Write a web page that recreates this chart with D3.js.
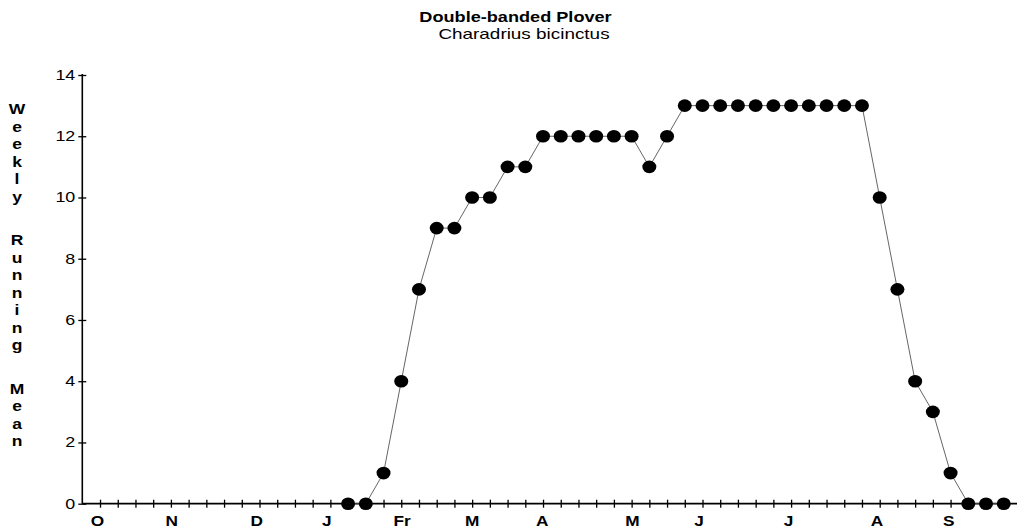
<!DOCTYPE html>
<html>
<head>
<meta charset="utf-8">
<script src="https://cdn.jsdelivr.net/npm/d3@7"></script>
<style>
  html, body { margin: 0; padding: 0; background: #fff; }
  svg { display: block; font-family: "Liberation Sans", Arial, sans-serif; }
</style>
</head>
<body>
<svg id="chart" width="1017" height="527"></svg>
<script>
// ---- data ----
const weeks = [15,16,17,18,19,20,21,22,23,24,25,26,27,28,29,30,31,32,33,34,35,36,37,38,39,40,41,42,43,44,45,46,47,48,49,50,51,52];
const values = [0,0,1,4,7,9,9,10,10,11,11,12,12,12,12,12,12,11,12,13,13,13,13,13,13,13,13,13,13,13,10,7,4,3,1,0,0,0];
const monthLabels = ["O","N","D","J","Fr","M","A","M","J","J","A","S"];
const monthPositions = [0.85,5.05,9.85,13.8,18.05,22,25.95,31.05,34.8,39.85,44.85,48.9];
const yTicks = [0,2,4,6,8,10,12,14];
const weekTicks = d3.range(1,53);
const titleText = "Double-banded Plover";
const subtitleText = "Charadrius bicinctus";
const yTitle = "Weekly Running Mean";

// ---- layout ----
const svg = d3.select("#chart");
const x0 = 82.3, step = 17.72;
const x = d3.scaleLinear().domain([0, 53]).range([x0, x0 + 53*step]);
const y = d3.scaleLinear().domain([0, 14]).range([503.7, 75]);

// text helper with horizontal stretch (scan is wider than tall)
function stretchText(g, tx, ty, txt, size, weight, anchor, sx) {
  return g.append("text")
    .attr("transform", `translate(${tx},${ty}) scale(${sx},1)`)
    .attr("text-anchor", anchor)
    .attr("font-size", size).attr("font-weight", weight)
    .attr("fill", "#000")
    .text(txt);
}

// title
stretchText(svg, 515.5, 21.5, titleText, 15.5, "bold", "middle", 1.17);
stretchText(svg, 524, 38.5, subtitleText, 14, "normal", "middle", 1.35);

// y title (stacked letters)
let yy = 114;
for (const ch of yTitle) {
  if (ch === " ") { yy += 26; continue; }
  stretchText(svg, 17, yy, ch, 14, "bold", "middle", 1.25);
  yy += 17.5;
}

// y axis
const yAxis = svg.append("g").attr("transform", `translate(${x0},0)`)
  .call(d3.axisLeft(y).tickValues(yTicks).tickSize(4).tickPadding(3).tickFormat(d3.format("d")));
yAxis.select(".domain").remove();
yAxis.selectAll(".tick line").attr("x1", 4).attr("stroke","#000").attr("stroke-width",1.3);
yAxis.selectAll(".tick text")
  .attr("x", 0)
  .attr("transform", "translate(-7,0) scale(1.28,1)")
  .attr("font-size", 14).attr("font-family","Liberation Sans, Arial, sans-serif").attr("fill","#000");
yAxis.append("line").attr("x1",0).attr("x2",0).attr("y1",y(0)).attr("y2",y(14)-1)
  .attr("stroke","#000").attr("stroke-width",1.6);

// x axis
const xAxis = svg.append("g").attr("transform", `translate(0,${y(0)})`)
  .call(d3.axisBottom(x).tickValues(weekTicks).tickSize(4).tickFormat(""));
xAxis.select(".domain").remove();
xAxis.selectAll(".tick line").attr("y1", -4).attr("stroke","#000").attr("stroke-width",1.3);
xAxis.append("line").attr("x1", x0).attr("x2", 1017).attr("y1",0).attr("y2",0)
  .attr("stroke","#000").attr("stroke-width",1.8);

// month labels
const mg = svg.append("g");
monthLabels.forEach((d,i) => stretchText(mg, x(monthPositions[i]), 525.5, d, 15, "bold", "middle", 1.15));

// line
const pts = weeks.map((w,i) => [w, values[i]]);
svg.append("path").datum(pts)
  .attr("fill","none").attr("stroke","#555").attr("stroke-width",0.9)
  .attr("d", d3.line().x(d => x(d[0])).y(d => y(d[1])));

// dots
svg.append("g").selectAll("ellipse").data(pts).join("ellipse")
  .attr("cx", d => x(d[0])).attr("cy", d => y(d[1]))
  .attr("rx", 7).attr("ry", 6.3).attr("fill","#000");
</script>
</body>
</html>
